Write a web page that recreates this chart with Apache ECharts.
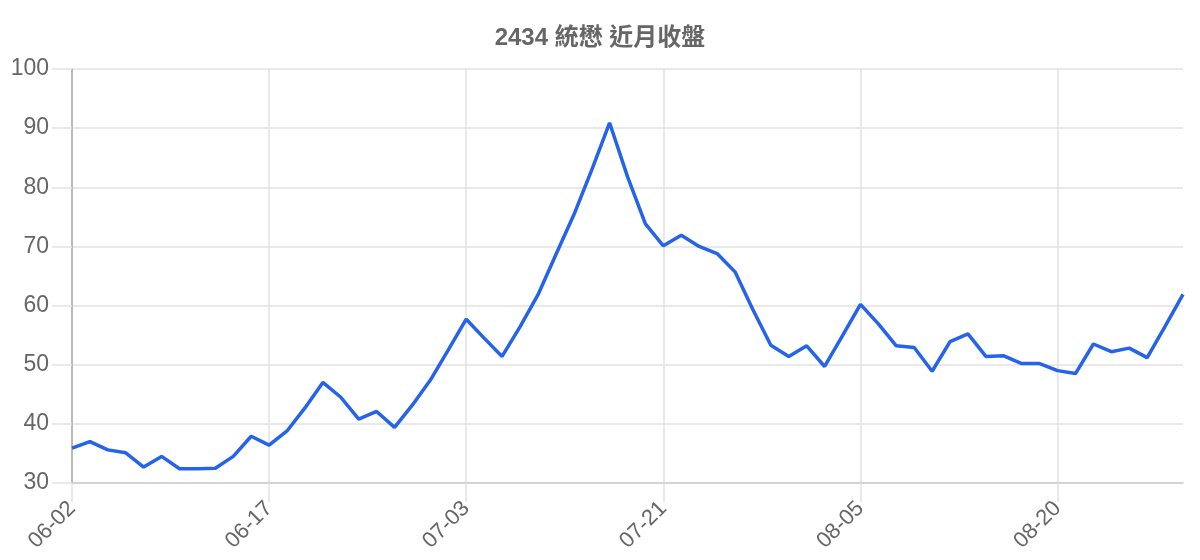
<!DOCTYPE html>
<html>
<head>
<meta charset="utf-8">
<script src="https://cdn.jsdelivr.net/npm/echarts@6/dist/echarts.min.js"></script>
<style>
  html, body { margin: 0; padding: 0; background: #fff; }
  #chart { width: 1200px; height: 560px; }
</style>
</head>
<body>
<div id="chart"></div>
<script>
(function() {
  // 交易日（MM-DD）
  var dates = [
    "06-02", "06-03", "06-04", "06-05", "06-06", "06-09", "06-10", "06-11", "06-12", "06-13",
    "06-16", "06-17", "06-18", "06-19", "06-23", "06-24", "06-25", "06-26", "06-27", "06-30",
    "07-01", "07-02", "07-03", "07-04", "07-08", "07-09", "07-10", "07-11", "07-14", "07-15",
    "07-16", "07-17", "07-18", "07-21", "07-22", "07-23", "07-24", "07-25", "07-28", "07-29",
    "07-30", "07-31", "08-01", "08-04", "08-05", "08-06", "08-07", "08-08", "08-11", "08-12",
    "08-13", "08-14", "08-15", "08-18", "08-19", "08-20", "08-21", "08-22", "08-25", "08-26",
    "08-27", "08-28", "08-29"
  ];
  // 收盤價
  var closes = [
    35.9, 37.0, 35.6, 35.1, 32.7, 34.5, 32.4, 32.4, 32.5, 34.5,
    37.9, 36.4, 38.8, 42.7, 47.0, 44.5, 40.8, 42.1, 39.4, 43.2,
    47.4, 52.5, 57.7, 54.5, 51.4, 56.4, 61.8, 68.6, 75.3, 82.9,
    90.9, 81.8, 73.8, 70.1, 71.9, 70.0, 68.8, 65.7, 59.3, 53.3,
    51.4, 53.2, 49.7, 54.9, 60.2, 56.9, 53.2, 52.9, 48.9, 53.9,
    55.2, 51.4, 51.5, 50.2, 50.2, 49.0, 48.5, 53.5, 52.2, 52.8,
    51.2, 56.5, 61.9
  ];
  var titleText = "2434 統懋 近月收盤";

  var myChart = echarts.init(document.getElementById("chart"));
  var fontFamily = "'Liberation Sans', Arial, 'Noto Sans CJK TC', sans-serif";

  var option = {
    animation: false,
    title: {
      text: titleText,
      left: "center",
      top: 21,
      textStyle: {
        color: "#666",
        fontSize: 24,
        fontWeight: "bold",
        fontFamily: fontFamily
      }
    },
    grid: { left: 72, right: 17, top: 69, bottom: 77 },
    xAxis: {
      type: "category",
      data: dates,
      boundaryGap: false,
      axisLine: { lineStyle: { color: "#ccc", width: 1.5 } },
      axisTick: {
        show: true,
        interval: 10,
        length: 19,
        lineStyle: { color: "#e2e2e2", width: 1.5 }
      },
      axisLabel: {
        interval: 10,
        rotate: 45,
        margin: 22,
        color: "#666",
        fontSize: 22,
        fontFamily: fontFamily
      },
      splitLine: {
        show: true,
        interval: 10,
        lineStyle: { color: "#e2e2e2", width: 1.5 }
      }
    },
    yAxis: {
      type: "value",
      min: 30,
      max: 100,
      interval: 10,
      axisLine: { show: true, lineStyle: { color: "#aaa", width: 1.5 } },
      axisTick: {
        show: true,
        length: 20,
        lineStyle: { color: "#e2e2e2", width: 1.5 }
      },
      axisLabel: {
        margin: 23,
        color: "#666",
        fontSize: 23,
        fontFamily: fontFamily
      },
      splitLine: { lineStyle: { color: "#e2e2e2", width: 1.5 } }
    },
    series: [{
      type: "line",
      data: closes,
      showSymbol: false,
      symbol: "none",
      lineStyle: { color: "#2563eb", width: 3.5 },
      itemStyle: { color: "#2563eb" }
    }]
  };
  myChart.setOption(option);
  window.addEventListener("resize", function() {
    myChart.resize();
  });
})();
</script>
</body>
</html>
